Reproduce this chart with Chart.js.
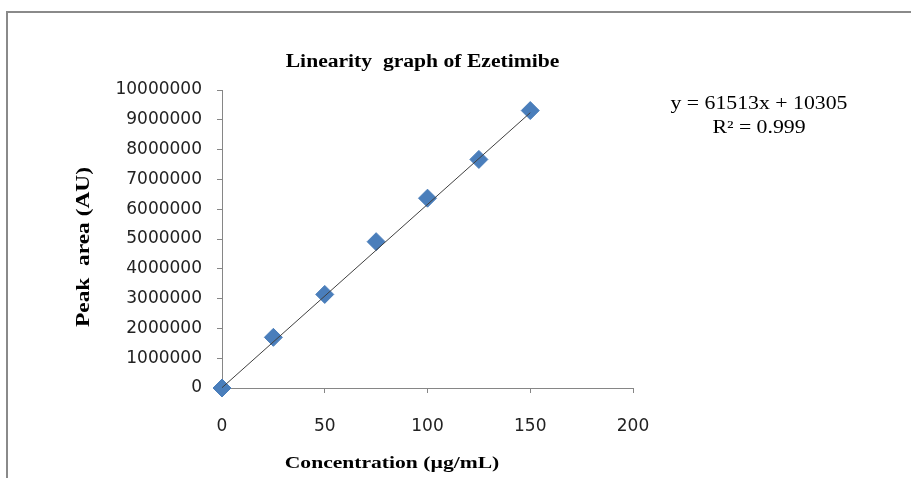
<!DOCTYPE html>
<html>
<head>
<meta charset="utf-8">
<script src="https://cdn.jsdelivr.net/npm/chart.js@4.4.0/dist/chart.umd.min.js"></script>
<style>
  html, body { margin: 0; padding: 0; background: #fff; }
  #wrap { width: 911px; height: 478px; }
</style>
</head>
<body>
<div id="wrap"><canvas id="linChart" width="911" height="478"></canvas></div>
<script>
// concentration (ug/mL) and peak area
var concentration = [0, 25, 50, 75, 100, 125, 150];
var peakArea = [0, 1700000, 3140000, 4910000, 6370000, 7670000, 9310000];

// trend line as printed on the chart
var slope = 61513;
var intercept = 10305;
var trendX = [0, 150];

var xTicks = [0, 50, 100, 150, 200];
var yTicks = [0, 1000000, 2000000, 3000000, 4000000, 5000000, 6000000, 7000000, 8000000, 9000000, 10000000];

var chartTitle = 'Linearity  graph of Ezetimibe';
var xTitle = 'Concentration (\u00b5g/mL)';
var yTitle = 'Peak  area (AU)';
var eqLines = ['y = 61513x + 10305', 'R\u00b2 = 0.999'];

document.addEventListener('DOMContentLoaded', function () {
    var points = concentration.map(function (c, i) { return { x: c, y: peakArea[i] }; });
    var trend = trendX.map(function (c) { return { x: c, y: slope * c + intercept }; });

    // stretched serif text, like the original
    function wideText(ctx, text, x, y, sx, rot) {
        ctx.save();
        ctx.translate(x, y);
        if (rot) ctx.rotate(rot);
        ctx.scale(sx, 1);
        ctx.fillText(text, 0, 0);
        ctx.restore();
    }

    // frame, titles and equation text
    var decor = {
        id: 'decor',
        beforeDraw: function (chart) {
            var ctx = chart.ctx;
            ctx.save();
            ctx.fillStyle = '#fff';
            ctx.fillRect(0, 0, chart.width, chart.height);
            ctx.strokeStyle = '#8a8a8a';
            ctx.lineWidth = 2;
            ctx.strokeRect(7, 12, 1000, 1000);
            ctx.restore();
        },
        afterDraw: function (chart) {
            var ctx = chart.ctx;
            var area = chart.chartArea;
            ctx.save();
            ctx.fillStyle = '#000';
            ctx.textAlign = 'center';

            ctx.textBaseline = 'middle';
            ctx.font = 'bold 18px "Liberation Serif"';
            wideText(ctx, chartTitle, (area.left + area.right) / 2 - 5, 62, 1.2);

            ctx.textBaseline = 'alphabetic';
            ctx.font = 'bold 17px "Liberation Serif"';
            wideText(ctx, xTitle, 392, 468, 1.27);

            ctx.font = 'bold 18px "Liberation Serif"';
            wideText(ctx, yTitle, 89, (area.top + area.bottom) / 2 + 8, 1.3, -Math.PI / 2);

            ctx.textBaseline = 'middle';
            ctx.font = '18px "Liberation Serif"';
            for (var i = 0; i < eqLines.length; i++) {
                wideText(ctx, eqLines[i], 759, 104 + i * 24, 1.21);
            }
            ctx.restore();
        }
    };

    var ctx = document.getElementById('linChart').getContext('2d');
    var linChart = new Chart(ctx, {
        type: 'scatter',
        data: {
            datasets: [{
                type: 'line',
                data: trend,
                borderColor: '#404040',
                borderWidth: 1,
                pointRadius: 0,
                fill: false,
                clip: false,
                order: 0
            }, {
                data: points,
                pointStyle: 'rectRot',
                pointRadius: 9,
                pointHoverRadius: 9,
                backgroundColor: '#4a7ebb',
                borderColor: '#4a7ebb',
                borderWidth: 1,
                clip: false,
                order: 1
            }]
        },
        options: {
            responsive: false,
            animation: false,
            layout: { padding: { top: 90, right: 278, left: 0, bottom: 0 } },
            plugins: {
                legend: { display: false },
                tooltip: { enabled: false }
            },
            scales: {
                x: {
                    type: 'linear',
                    min: 0,
                    max: 200,
                    afterFit: function (s) { s.height = 90; },
                    afterBuildTicks: function (s) { s.ticks = xTicks.map(function (v) { return { value: v }; }); },
                    grid: { drawOnChartArea: false, tickLength: 5, color: '#868686' },
                    border: { color: '#868686' },
                    ticks: {
                        padding: 23,
                        color: '#222',
                        font: { family: 'DejaVu Sans', size: 17 },
                        callback: function (v) { return String(v); }
                    }
                },
                y: {
                    min: 0,
                    max: 10000000,
                    afterFit: function (s) { s.width = 222; },
                    afterBuildTicks: function (s) { s.ticks = yTicks.map(function (v) { return { value: v }; }); },
                    grid: { drawOnChartArea: false, tickLength: 5, color: '#868686' },
                    border: { color: '#868686' },
                    ticks: {
                        padding: 15,
                        color: '#222',
                        font: { family: 'DejaVu Sans', size: 17 },
                        callback: function (v) { return String(v); }
                    }
                }
            }
        },
        plugins: [decor]
    });
});
</script>
</body>
</html>
